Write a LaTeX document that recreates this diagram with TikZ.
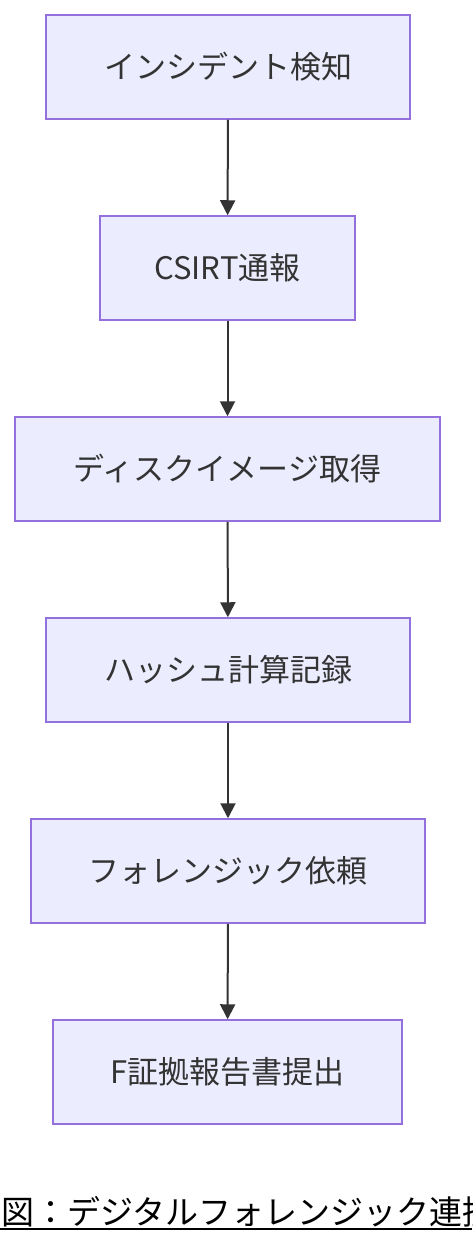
\documentclass[tikz,border=0pt]{standalone}
\usepackage{fontspec}
\setmainfont{Noto Sans CJK JP}
\usetikzlibrary{arrows.meta}
\definecolor{nodefill}{HTML}{ECECFF}
\definecolor{nodeline}{HTML}{9370DB}
\definecolor{edgecol}{HTML}{333333}
\tikzset{
  box/.style={draw=nodeline, fill=nodefill, line width=1.5pt, text=edgecol,
    minimum height=104pt, inner sep=0pt, font=\fontsize{31}{36}\selectfont},
  flow/.style={draw=edgecol, line width=2pt, -{Triangle[length=15pt,width=15pt]}}
}
\begin{document}
\begin{tikzpicture}[x=1pt,y=-1pt]
\useasboundingbox (0,0) rectangle (472,1244);
\node[box, minimum width=364pt] (n1) at (228,67) {インシデント検知};
\node[box, minimum width=255pt] (n2) at (227.5,268) {CSIRT通報};
\node[box, minimum width=425pt] (n3) at (227.5,469) {ディスクイメージ取得};
\node[box, minimum width=364pt] (n4) at (228,670) {ハッシュ計算記録};
\node[box, minimum width=394pt] (n5) at (228,871) {フォレンジック依頼};
\node[box, minimum width=349pt] (n6) at (227.5,1072) {F証拠報告書提出};
\draw[flow] (n1) -- (n2);
\draw[flow] (n2) -- (n3);
\draw[flow] (n3) -- (n4);
\draw[flow] (n4) -- (n5);
\draw[flow] (n5) -- (n6);
\begin{scope}
\clip (0,1170) rectangle (472,1244);
\node[anchor=base west, inner sep=0pt, font=\fontsize{33}{38}\selectfont] (cap) at (1,1224) {図：デジタルフォレンジック連携};
\end{scope}
\draw[black, line width=2pt] (0,1229) -- (472,1229);
\end{tikzpicture}
\end{document}
